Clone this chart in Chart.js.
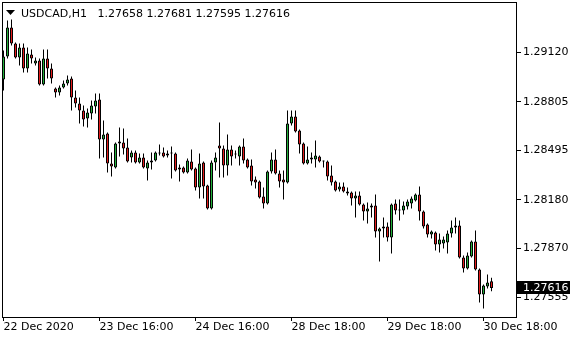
<!DOCTYPE html>
<html>
<head>
<meta charset="utf-8">
<script src="https://cdn.jsdelivr.net/npm/chart.js@4/dist/chart.umd.min.js"></script>
<style>
  html,body{margin:0;padding:0;background:#fff;}
  #c{display:block;}
</style>
</head>
<body>
<canvas id="c" width="580" height="340"></canvas>
<script>
// USDCAD H1 candles (one per hour slot)
const opens = [
  1.28948,1.29094,1.29280,1.29177,1.29088,1.29152,1.29018,1.29107,1.29050,1.29069,
  1.28916,1.29082,1.29018,1.28890,1.28864,1.28896,1.28922,1.28954,1.28833,1.28794,
  1.28749,1.28698,1.28730,1.28775,1.28820,1.28564,1.28603,1.28411,1.28385,1.28539,
  1.28545,1.28513,1.28449,1.28481,1.28417,1.28449,1.28379,1.28417,1.28430,1.28475,
  1.28481,1.28462,1.28478,1.28475,1.28385,1.28385,1.28354,1.28424,1.28379,1.28258,
  1.28417,1.28270,1.28123,1.28417,1.28526,1.28507,1.28398,1.28500,1.28468,1.28456,
  1.28520,1.28437,1.28398,1.28309,1.28296,1.28200,1.28155,1.28360,1.28437,1.28347,
  1.28309,1.28290,1.28666,1.28711,1.28622,1.28539,1.28411,1.28437,1.28437,1.28456,
  1.28424,1.28424,1.28334,1.28296,1.28245,1.28264,1.28232,1.28226,1.28187,1.28207,
  1.28149,1.28104,1.28130,1.28143,1.27977,1.27996,1.28008,1.27938,1.28155,1.28111,
  1.28111,1.28136,1.28155,1.28175,1.28213,1.28104,1.28021,1.27957,1.27970,1.27894,
  1.27900,1.27906,1.27964,1.28002,1.28015,1.27810,1.27740,1.27817,1.27913,1.27734,
  1.27574,1.27625,1.27658
];
const highs = [
  1.29133,1.29324,1.29331,1.29184,1.29177,1.29177,1.29152,1.29139,1.29088,1.29082,
  1.29139,1.29139,1.29050,1.28896,1.28909,1.28941,1.28973,1.28967,1.28877,1.28833,
  1.28781,1.28762,1.28813,1.28858,1.28858,1.28686,1.28609,1.28481,1.28545,1.28641,
  1.28635,1.28571,1.28494,1.28494,1.28475,1.28475,1.28430,1.28481,1.28488,1.28532,
  1.28513,1.28494,1.28520,1.28481,1.28405,1.28392,1.28443,1.28500,1.28385,1.28475,
  1.28424,1.28276,1.28430,1.28481,1.28673,1.28526,1.28596,1.28526,1.28494,1.28526,
  1.28571,1.28443,1.28437,1.28328,1.28302,1.28258,1.28366,1.28481,1.28500,1.28366,
  1.28366,1.28749,1.28749,1.28749,1.28628,1.28545,1.28520,1.28481,1.28558,1.28462,
  1.28430,1.28430,1.28398,1.28302,1.28290,1.28290,1.28258,1.28232,1.28232,1.28232,
  1.28155,1.28162,1.28155,1.28213,1.28002,1.28066,1.28034,1.28155,1.28181,1.28181,
  1.28168,1.28181,1.28200,1.28219,1.28264,1.28111,1.28028,1.27983,1.27977,1.27964,
  1.27945,1.27983,1.28047,1.28066,1.28047,1.27823,1.27842,1.27919,1.27983,1.27740,
  1.27638,1.27702,1.27681
];
const lows = [
  1.28877,1.29082,1.29165,1.29082,1.29037,1.28992,1.28992,1.29050,1.29037,1.28909,
  1.28909,1.28954,1.28922,1.28833,1.28845,1.28890,1.28909,1.28749,1.28769,1.28666,
  1.28647,1.28641,1.28692,1.28730,1.28443,1.28449,1.28354,1.28328,1.28379,1.28456,
  1.28468,1.28417,1.28417,1.28411,1.28411,1.28379,1.28302,1.28373,1.28424,1.28462,
  1.28449,1.28449,1.28315,1.28360,1.28296,1.28347,1.28347,1.28366,1.28238,1.28187,
  1.28187,1.28117,1.28117,1.28366,1.28322,1.28322,1.28334,1.28398,1.28443,1.28398,
  1.28411,1.28379,1.28270,1.28251,1.28187,1.28123,1.28149,1.28347,1.28341,1.28258,
  1.28181,1.28283,1.28654,1.28609,1.28475,1.28405,1.28405,1.28411,1.28385,1.28417,
  1.28385,1.28302,1.28270,1.28232,1.28232,1.28226,1.28207,1.28143,1.28066,1.28143,
  1.28047,1.28028,1.28066,1.27938,1.27785,1.27938,1.27913,1.27836,1.28085,1.28047,
  1.28085,1.28117,1.28123,1.28168,1.28047,1.27996,1.27938,1.27932,1.27855,1.27842,
  1.27868,1.27836,1.27938,1.27964,1.27804,1.27715,1.27734,1.27810,1.27727,1.27523,
  1.27485,1.27612,1.27595
];
const closes = [
  1.29094,1.29280,1.29177,1.29088,1.29152,1.29018,1.29114,1.29082,1.29069,1.28916,
  1.29082,1.29018,1.28954,1.28864,1.28896,1.28922,1.28948,1.28833,1.28794,1.28749,
  1.28692,1.28737,1.28781,1.28813,1.28564,1.28596,1.28411,1.28392,1.28539,1.28551,
  1.28507,1.28424,1.28481,1.28417,1.28449,1.28385,1.28417,1.28430,1.28481,1.28481,
  1.28456,1.28475,1.28475,1.28366,1.28373,1.28354,1.28430,1.28373,1.28258,1.28411,
  1.28264,1.28123,1.28417,1.28449,1.28507,1.28398,1.28500,1.28456,1.28468,1.28520,
  1.28430,1.28385,1.28296,1.28290,1.28194,1.28155,1.28360,1.28437,1.28347,1.28296,
  1.28290,1.28666,1.28711,1.28615,1.28532,1.28411,1.28437,1.28449,1.28462,1.28424,
  1.28424,1.28328,1.28290,1.28238,1.28264,1.28232,1.28219,1.28187,1.28207,1.28149,
  1.28104,1.28123,1.28143,1.27977,1.27996,1.28008,1.27938,1.28149,1.28111,1.28117,
  1.28143,1.28168,1.28187,1.28213,1.28104,1.28008,1.27957,1.27977,1.27894,1.27925,
  1.27925,1.27964,1.28002,1.28015,1.27810,1.27740,1.27823,1.27913,1.27734,1.27574,
  1.27632,1.27651,1.27616
];

// axis labels
const tickIdx  = [0, 24, 48, 72, 96, 120];
const tickText = ['22 Dec 2020','23 Dec 16:00','24 Dec 16:00','28 Dec 18:00','29 Dec 18:00','30 Dec 18:00'];
const priceTicks = [1.27555, 1.27870, 1.28180, 1.28495, 1.28805, 1.29120];

const UP = '#22b03a', DOWN = '#e41c1c';
const FONT = {family:'DejaVu Sans', size:11};
const last = opens.length - 1;

const chrome = {
  id:'chrome',
  afterDraw(chart){
    const {ctx, chartArea:a, scales} = chart;
    ctx.save();
    // frame
    ctx.strokeStyle = '#000'; ctx.lineWidth = 1;
    ctx.strokeRect(a.left + 0.5, a.top + 0.5, a.right - a.left - 1, a.bottom - a.top);
    // header
    ctx.fillStyle = '#000';
    ctx.beginPath(); ctx.moveTo(6,10); ctx.lineTo(15,10); ctx.lineTo(10.5,15); ctx.closePath(); ctx.fill();
    ctx.font = '11px "DejaVu Sans"';
    ctx.textBaseline = 'alphabetic';
    const ohlc = [opens[last], highs[last], lows[last], closes[last]].map(v => v.toFixed(5)).join(' ');
    ctx.fillText('USDCAD,H1   ' + ohlc, 21, 17);
    // last price box
    const y = Math.round(scales.y.getPixelForValue(closes[last]));
    ctx.fillRect(a.right, y - 7, 53, 13);
    ctx.fillStyle = '#fff';
    ctx.textBaseline = 'middle';
    ctx.fillText(closes[last].toFixed(5), a.right + 6, y);
    ctx.restore();
  }
};

new Chart(document.getElementById('c'), {
  type:'bar',
  data:{
    datasets:[
      { // bodies
        data: opens.map((o,i) => ({x:i, y:[o, closes[i]]})),
        backgroundColor: opens.map((o,i) => closes[i] >= o ? UP : DOWN),
        borderColor:'#000', borderWidth:1, borderSkipped:false,
        barThickness:3, minBarLength:1, grouped:false, inflateAmount:0
      },
      { // wicks
        data: lows.map((l,i) => ({x:i, y:[l, highs[i]]})),
        backgroundColor:'#000', borderWidth:0,
        barThickness:1, grouped:false, inflateAmount:0
      }
    ]
  },
  options:{
    responsive:false, animation:false,
    layout:{padding:{left:2, top:2, right:0, bottom:0}},
    plugins:{legend:{display:false}, tooltip:{enabled:false}},
    scales:{
      x:{
        type:'linear', position:'bottom', min:-0.375, max:128.375, offset:false,
        afterFit: s => { s.height = 23; s.paddingLeft = 0; s.paddingRight = 0; },
        afterBuildTicks: s => { s.ticks = tickIdx.map(v => ({value:v})); },
        ticks:{autoSkip:false, maxRotation:0, minRotation:0, align:'start', padding:0,
               color:'#000', font:FONT, callback:(v,i) => tickText[i]},
        grid:{drawOnChartArea:false, drawTicks:true, tickLength:4, color:'#000', offset:false},
        border:{display:false}
      },
      y:{
        type:'linear', position:'right', min:1.274304, max:1.294426,
        afterFit: s => { s.width = 63; s.paddingTop = 0; s.paddingBottom = 0; },
        afterBuildTicks: s => { s.ticks = priceTicks.map(v => ({value:v})); },
        ticks:{autoSkip:false, padding:2, color:'#000', font:FONT, callback:v => v.toFixed(5)},
        grid:{drawOnChartArea:false, drawTicks:true, tickLength:4, color:'#000'},
        border:{display:false}
      }
    }
  },
  plugins:[chrome]
});
</script>
</body>
</html>
